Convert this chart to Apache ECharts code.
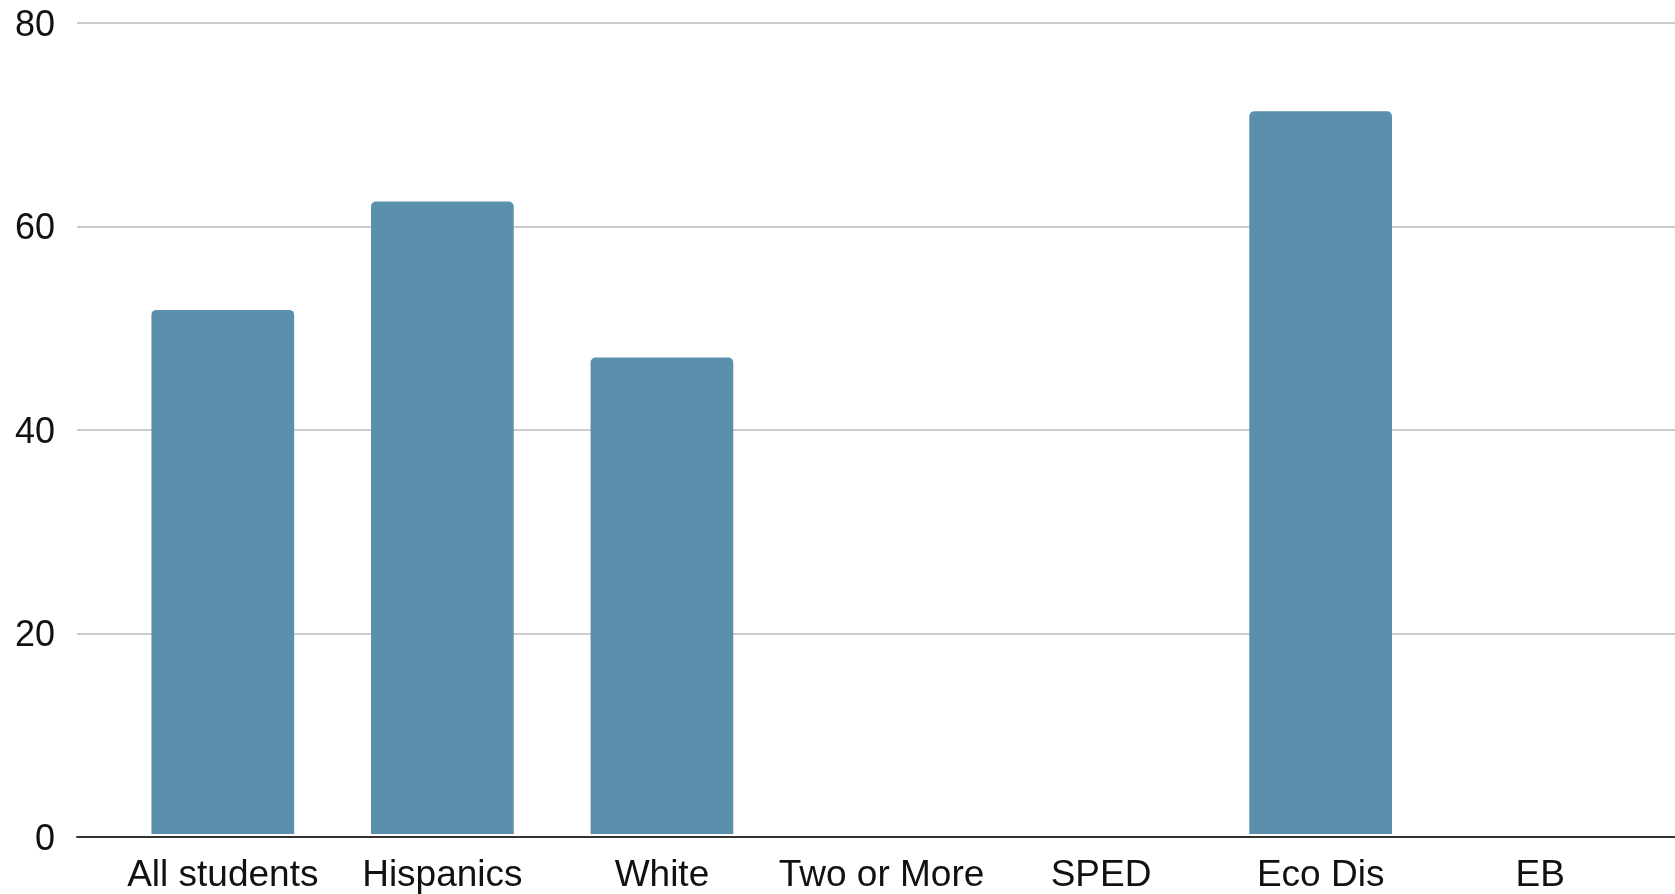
<!DOCTYPE html>
<html>
<head>
<meta charset="utf-8">
<script src="https://cdn.jsdelivr.net/npm/echarts@6/dist/echarts.min.js"></script>
<style>
html,body{margin:0;padding:0;background:#fff;}
#chart{width:1675px;height:894px;}
</style>
</head>
<body>
<div id="chart"></div>
<script>
const categories = ["All students", "Hispanics", "White", "Two or More", "SPED", "Eco Dis", "EB"];
const values = [51.7, 62.4, 47.0, null, null, 71.3, null];
const yMin = 0, yMax = 80, yStep = 20;

const chart = echarts.init(document.getElementById('chart'));
const font = 'Liberation Sans, Arial, sans-serif';
const gTop = 23, gBottom = 57;
chart.setOption({
  animation: false,
  backgroundColor: '#fff',
  grid: [
    {left: 77, right: 0, top: gTop, bottom: gBottom},
    {left: 113, right: 25, top: gTop, bottom: gBottom}
  ],
  xAxis: [
    {gridIndex: 0, type: 'category', data: categories, axisTick: {show: false},
     axisLabel: {show: false}, axisLine: {show: true, lineStyle: {color: '#333', width: 2}}, z: 5},
    {gridIndex: 1, type: 'category', data: categories, axisTick: {show: false},
     axisLine: {show: false},
     axisLabel: {show: true, interval: 0, fontFamily: font, fontSize: 37, color: '#111', margin: 23}}
  ],
  yAxis: [
    {gridIndex: 0, type: 'value', min: yMin, max: yMax, interval: yStep,
     axisLine: {show: false}, axisTick: {show: false},
     axisLabel: {fontFamily: font, fontSize: 36, color: '#111', margin: 22,
                 verticalAlign: 'top', lineHeight: 36, padding: [-15, 0, 0, 0]},
     splitLine: {show: true, lineStyle: {color: '#cccccc', width: 2}}},
    {gridIndex: 1, type: 'value', min: yMin, max: yMax, interval: yStep,
     axisLine: {show: false}, axisTick: {show: false}, axisLabel: {show: false},
     splitLine: {show: false}}
  ],
  series: [{
    type: 'bar', xAxisIndex: 1, yAxisIndex: 1, data: values,
    barCategoryGap: '35%',
    itemStyle: {color: '#5a90ae', borderRadius: [5, 5, 0, 0]},
    z: 2
  }]
});
</script>
</body>
</html>
